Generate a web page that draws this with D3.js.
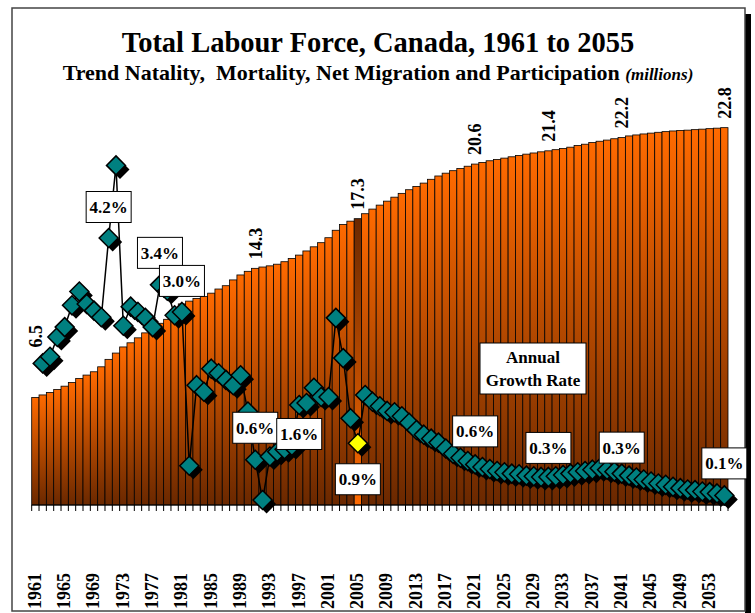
<!doctype html>
<html>
<head>
<meta charset="utf-8">
<title>Total Labour Force, Canada, 1961 to 2055</title>
<script src="https://d3js.org/d3.v7.min.js"></script>
<style>
body { margin:0; background:#fff; }
svg { display:block; font-family:"Liberation Serif","Times New Roman",serif; }
</style>
</head>
<body>
<script>

// labour force, millions, 1961..2055
var firstYear = 1961, lastYear = 2055;
var years = d3.range(firstYear, lastYear + 1);

var labourForce = [
  6.5, 6.65, 6.8, 6.98, 7.18, 7.4, 7.65, 7.85, 8.05, 8.35,
  8.8, 9.18, 9.55, 9.8, 10.1, 10.4, 10.72, 10.98, 11.22, 11.75,
  12.15, 12.32, 12.48, 12.6, 12.8, 13.05, 13.25, 13.6, 13.9, 14.12,
  14.3, 14.38, 14.45, 14.55, 14.7, 14.9, 15.1, 15.35, 15.6, 15.85,
  16.15, 16.6, 16.95, 17.15, 17.3, 17.6, 17.88, 18.12, 18.36, 18.6,
  18.83, 19.05, 19.25, 19.45, 19.68, 19.88, 20.05, 20.2, 20.33, 20.47,
  20.6, 20.7, 20.8, 20.88, 20.96, 21.04, 21.12, 21.2, 21.27, 21.34,
  21.4, 21.47, 21.54, 21.62, 21.72, 21.8, 21.9, 21.98, 22.05, 22.13,
  22.2, 22.3, 22.36, 22.42, 22.47, 22.52, 22.56, 22.6, 22.63, 22.65,
  22.68, 22.71, 22.74, 22.77, 22.8
];

// annual growth rate, %, 1962..2055
var growthRate = [
  2.1, 2.2, 2.5, 2.65, 2.98, 3.19, 3.0, 2.9, 2.8,
  4.0, 5.1, 2.67, 2.96, 2.88, 2.79, 2.65, 3.29, 3.2, 2.83,
  2.88, 0.55, 1.77, 1.67, 2.02, 1.95, 1.85, 1.77, 1.92, 1.37,
  0.64, 0.03, 0.69, 0.76, 0.8, 0.85, 1.47, 1.5, 1.73, 1.59,
  1.59, 2.79, 2.18, 1.27, 0.89, 1.62, 1.52, 1.45, 1.38, 1.36,
  1.3, 1.2, 1.09, 1.02, 0.96, 0.9, 0.81, 0.73, 0.67, 0.62,
  0.57, 0.53, 0.5, 0.47, 0.45, 0.43, 0.42, 0.4, 0.39, 0.38,
  0.38, 0.39, 0.41, 0.43, 0.45, 0.47, 0.49, 0.51, 0.49, 0.46,
  0.43, 0.4, 0.37, 0.34, 0.31, 0.28, 0.26, 0.23, 0.21, 0.19,
  0.18, 0.16, 0.15, 0.13, 0.1
];
var growthYears = years.slice(1);

var valueLabelYears = [1961, 1991, 2005, 2021, 2031, 2041, 2055];
var rateLabelYears = [1971, 1978, 1981, 1991, 1997, 2005, 2021, 2031, 2041, 2055];
var rateLabelTexts = ["4.2%", "3.4%", "3.0%", "0.6%", "1.6%", "0.9%", "0.6%", "0.3%", "0.3%", "0.1%"];
var axisYears = d3.range(1961, 2054, 4);
var highlightYear = 2005;

// layout only
var rateLabelShift = [-31, -32, -31, -32, 29, 36, -33, -29, -26, -32];

var W = 755, H = 613;
var base = 505;

var svg = d3.select("body").append("svg").attr("width", W).attr("height", H);

var defs = svg.append("defs");
var g1 = defs.append("linearGradient").attr("id", "barGrad").attr("x1", 0).attr("y1", 0).attr("x2", 0).attr("y2", 1);
g1.append("stop").attr("offset", "0%").attr("stop-color", "#ff6a00");
g1.append("stop").attr("offset", "100%").attr("stop-color", "#6a2800");
var g2 = defs.append("linearGradient").attr("id", "barGradRev").attr("x1", 0).attr("y1", 0).attr("x2", 0).attr("y2", 1);
g2.append("stop").attr("offset", "0%").attr("stop-color", "#6a2800");
g2.append("stop").attr("offset", "100%").attr("stop-color", "#ff6a00");

// frame
svg.append("rect").attr("x", 745).attr("y", 14).attr("width", 6).attr("height", 599).attr("fill", "#000");
svg.append("rect").attr("x", 12).attr("y", 8).attr("width", 733).attr("height", 603)
  .attr("fill", "none").attr("stroke", "#444").attr("stroke-width", 1.5);

// titles
svg.append("text").attr("x", 378).attr("y", 52).attr("text-anchor", "middle")
  .attr("font-size", 28.5).attr("font-weight", "bold").text("Total Labour Force, Canada, 1961 to 2055");
var sub = svg.append("text").attr("x", 378).attr("y", 80).attr("text-anchor", "middle")
  .attr("font-size", 22).attr("font-weight", "bold").style("white-space", "pre");
sub.append("tspan").text("Trend Natality,  Mortality, Net Migration and Participation ");
sub.append("tspan").attr("font-size", 17).attr("font-style", "italic").text("(millions)");

var x = d3.scaleBand().domain(years).range([31.7, 728]).padding(0);
var y = d3.scaleLinear().domain([0, 24]).range([base, base - 16.55 * 24]);
var yg = d3.scaleLinear().domain([0, 6]).range([502, 502 - 66 * 6]);
var cx = function(yr) { return x(yr) + x.bandwidth() / 2; };

// bars
svg.append("g").selectAll("rect").data(years).join("rect")
  .attr("x", function(d) { return x(d); })
  .attr("width", x.bandwidth())
  .attr("y", function(d, i) { return y(labourForce[i]); })
  .attr("height", function(d, i) { return base - y(labourForce[i]); })
  .attr("fill", function(d) { return d === highlightYear ? "url(#barGradRev)" : "url(#barGrad)"; })
  .attr("stroke", "#000").attr("stroke-width", 0.8);

// axis line and ticks at category boundaries
var axis = svg.append("g");
axis.append("line").attr("x1", x(firstYear)).attr("x2", x(lastYear) + x.bandwidth())
  .attr("y1", base).attr("y2", base).attr("stroke", "#000").attr("stroke-width", 1);
axis.selectAll("line.tick").data(years.concat([lastYear + 1])).join("line").attr("class", "tick")
  .attr("x1", function(d) { return d > lastYear ? x(lastYear) + x.bandwidth() : x(d); })
  .attr("x2", function(d) { return d > lastYear ? x(lastYear) + x.bandwidth() : x(d); })
  .attr("y1", base).attr("y2", base + 6).attr("stroke", "#000").attr("stroke-width", 1);
axis.selectAll("text").data(axisYears).join("text")
  .attr("transform", function(d) { return "translate(" + (cx(d) - 1) + ",609) rotate(-90)"; })
  .attr("dy", "0.35em").attr("font-size", 18).attr("font-weight", "bold").text(function(d) { return d; });

// bar value labels
svg.append("g").selectAll("text").data(valueLabelYears).join("text")
  .attr("transform", function(d) {
    var v = labourForce[years.indexOf(d)];
    var off = d === firstYear ? 50 : 9;
    return "translate(" + cx(d) + "," + (y(v) - off) + ") rotate(-90)";
  })
  .attr("dy", "0.35em").attr("font-size", 18).attr("font-weight", "bold")
  .text(function(d) { return labourForce[years.indexOf(d)].toFixed(1); });

// growth line
var line = d3.line().x(function(d) { return cx(d); }).y(function(d, i) { return yg(growthRate[i]); });
svg.append("path").datum(growthYears).attr("d", line)
  .attr("fill", "none").attr("stroke", "#000").attr("stroke-width", 1.5);

var r = 9.5;
var diamond = "M0," + (-r) + "L" + r + ",0L0," + r + "L" + (-r) + ",0Z";
var marks = svg.append("g").selectAll("g").data(growthYears).join("g")
  .attr("transform", function(d, i) { return "translate(" + cx(d) + "," + yg(growthRate[i]) + ")"; });
marks.append("path").attr("d", diamond).attr("transform", "translate(4,4)").attr("fill", "#000");
marks.append("path").attr("d", diamond)
  .attr("fill", function(d) { return d === highlightYear ? "#ffff00" : "#008080"; })
  .attr("stroke", "#000").attr("stroke-width", 1.5);

// growth labels
var lab = svg.append("g").selectAll("g").data(rateLabelYears).join("g")
  .attr("transform", function(d, i) {
    return "translate(" + cx(d) + "," + (yg(growthRate[growthYears.indexOf(d)]) + rateLabelShift[i]) + ")";
  });
lab.append("rect").attr("x", -22.5).attr("y", -15.5).attr("width", 45).attr("height", 31)
  .attr("fill", "#fff").attr("stroke", "#000").attr("stroke-width", 1);
lab.append("text").attr("text-anchor", "middle").attr("y", 6).attr("font-size", 17).attr("font-weight", "bold")
  .text(function(d, i) { return rateLabelTexts[i]; });

// legend box
var leg = svg.append("g");
leg.append("rect").attr("x", 480).attr("y", 343).attr("width", 106).attr("height", 51)
  .attr("fill", "#fff").attr("stroke", "#000").attr("stroke-width", 1);
leg.append("text").attr("x", 533).attr("y", 363).attr("text-anchor", "middle").attr("font-size", 17).attr("font-weight", "bold").text("Annual");
leg.append("text").attr("x", 533).attr("y", 386).attr("text-anchor", "middle").attr("font-size", 17).attr("font-weight", "bold").text("Growth Rate");

</script>
</body>
</html>
